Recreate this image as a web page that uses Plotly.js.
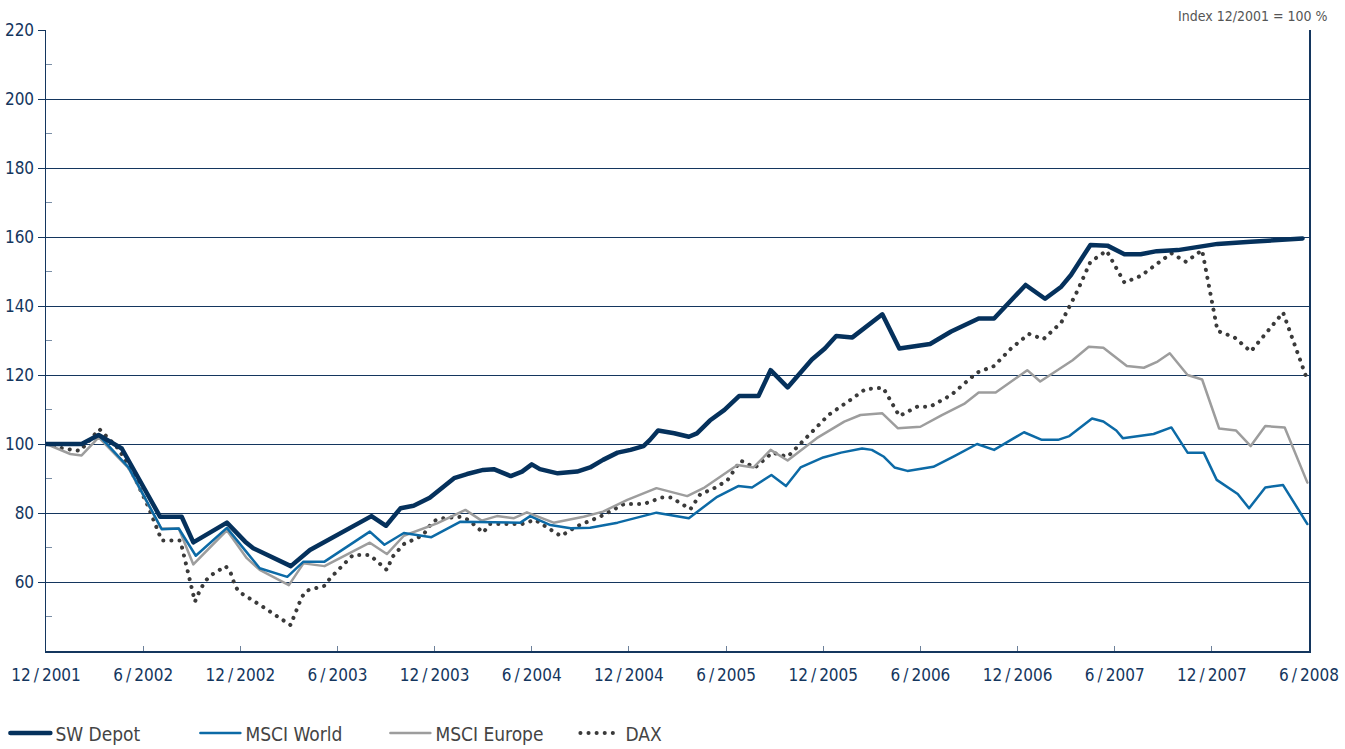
<!DOCTYPE html>
<html>
<head>
<meta charset="utf-8">
<script src="https://cdn.plot.ly/plotly-3.0.1.min.js"></script>
<style>
  html, body { margin: 0; padding: 0; background: #fff; }
  #chart { width: 1345px; height: 749px; }
  path.js-line { stroke-linecap: round; stroke-linejoin: round; }
</style>
</head>
<body>
<div id="chart"></div>
<script>
// x values: months since 12/2001
const tickMonths = [0, 6, 12, 18, 24, 30, 36, 42, 48, 54, 60, 66, 72, 78];
const tickLabels = ["12\u2009/\u20092001", "6\u2009/\u20092002", "12\u2009/\u20092002", "6\u2009/\u20092003", "12\u2009/\u20092003", "6\u2009/\u20092004", "12\u2009/\u20092004",
                    "6\u2009/\u20092005", "12\u2009/\u20092005", "6\u2009/\u20092006", "12\u2009/\u20092006", "6\u2009/\u20092007", "12\u2009/\u20092007", "6\u2009/\u20092008"];
const yTicks = [60, 80, 100, 120, 140, 160, 180, 200, 220];
const yMinor = [50, 70, 90, 110, 130, 150, 170, 190, 210];

const swX = [0, 2.2, 3.25, 4.68, 7.05, 8.38, 9.1, 11.17, 12.3, 12.8, 15.12, 16.3, 20.1, 21.0, 21.9, 22.7, 23.7, 24.4, 25.2, 26.0, 27.0, 27.65, 28.7, 29.4, 30.0, 30.5, 31.6, 32.8, 33.6, 34.4, 35.3, 36.1, 36.9, 37.3, 37.8, 38.8, 39.7, 40.2, 41.0, 41.9, 42.8, 44.0, 44.75, 45.8, 47.3, 48.1, 48.8, 49.8, 51.65, 52.7, 54.6, 55.9, 57.6, 58.55, 60.5, 61.7, 62.7, 63.3, 64.5, 65.55, 66.6, 67.6, 68.6, 69.9, 71.3, 72.35, 74.4, 77.6];
const swY = [100, 100, 102.6, 98.7, 78.9, 78.9, 71.5, 77.2, 71.7, 69.8, 64.6, 69.3, 79.1, 76.3, 81.4, 82.1, 84.4, 87.2, 90.1, 91.3, 92.5, 92.7, 90.7, 92.0, 94.1, 92.7, 91.5, 92.0, 93.2, 95.4, 97.5, 98.3, 99.4, 101.2, 103.9, 103.1, 102.1, 103.1, 106.8, 109.9, 113.9, 113.9, 121.4, 116.4, 124.5, 127.7, 131.3, 130.9, 137.6, 127.7, 129.0, 132.6, 136.4, 136.4, 146.1, 142.1, 145.6, 149.0, 157.7, 157.5, 155.0, 155.0, 155.9, 156.2, 157.2, 158.0, 158.6, 159.6];

const worldX = [0, 2.2, 3.25, 5.1, 7.15, 8.2, 9.25, 11.17, 12.45, 13.2, 14.9, 15.9, 17.2, 20.0, 20.9, 22.1, 23.8, 25.6, 29.3, 29.9, 31.15, 32.4, 33.6, 35.3, 37.7, 39.7, 41.45, 42.75, 43.6, 44.8, 45.7, 46.6, 48.0, 49.1, 50.4, 51.0, 51.75, 52.4, 53.2, 54.8, 56.1, 57.5, 58.55, 60.4, 61.5, 62.5, 63.2, 64.6, 65.3, 66.1, 66.5, 67.4, 68.4, 69.5, 70.5, 71.5, 72.3, 73.6, 74.3, 75.3, 76.4, 77.9];
const worldY = [100, 99.8, 102.6, 93.2, 75.3, 75.5, 67.6, 75.7, 68.3, 64.0, 61.5, 65.9, 65.9, 74.6, 70.8, 74.2, 73.0, 77.5, 77.2, 79.1, 76.5, 75.6, 75.7, 77.2, 80.1, 78.5, 84.7, 87.8, 87.4, 91.0, 87.8, 93.2, 96.1, 97.5, 98.7, 98.3, 96.3, 93.2, 92.2, 93.4, 96.5, 100, 98.3, 103.4, 101.2, 101.2, 102.3, 107.4, 106.5, 103.9, 101.7, 102.3, 102.9, 104.8, 97.5, 97.5, 89.6, 85.5, 81.4, 87.4, 88.1, 76.8];

const europeX = [0, 1.5, 2.2, 3.25, 5.1, 7.1, 8.2, 9.1, 11.17, 12.4, 13.2, 15.0, 15.9, 17.2, 20.0, 21.05, 22.1, 24.15, 25.9, 26.9, 27.85, 28.9, 29.7, 31.35, 33.2, 34.4, 35.9, 37.7, 39.6, 40.6, 42.7, 43.7, 44.75, 45.8, 47.6, 49.3, 50.3, 51.65, 52.6, 54.0, 55.3, 56.7, 57.6, 58.65, 60.6, 61.4, 63.4, 64.4, 65.3, 66.75, 67.8, 68.65, 69.4, 70.5, 71.4, 72.45, 73.5, 74.4, 75.3, 76.5, 77.9];
const europeY = [100, 97.1, 96.7, 101.9, 93.0, 75.6, 75.5, 65.1, 75.0, 66.9, 63.5, 59.1, 65.4, 64.6, 71.4, 68.1, 73.4, 77.0, 80.9, 77.8, 79.1, 78.5, 80.2, 77.2, 78.9, 80.4, 83.8, 87.2, 84.9, 87.2, 93.9, 93.2, 98.3, 95.2, 101.7, 106.5, 108.4, 108.9, 104.6, 105.0, 108.3, 111.6, 114.9, 114.9, 121.4, 118.1, 124.3, 128.2, 127.9, 122.6, 122.1, 123.9, 126.3, 120.0, 118.7, 104.5, 103.9, 99.4, 105.2, 104.8, 88.8];

const daxX = [0, 1.07, 2.1, 3.3, 4.5, 5.5, 6.3, 7.15, 8.3, 9.2, 9.4, 9.8, 10.2, 10.75, 11.1, 11.4, 11.7, 12.0, 12.7, 13.4, 15.1, 15.45, 15.8, 16.1, 17.2, 17.55, 18.4, 18.95, 20.0, 21.05, 21.4, 22.1, 23.3, 23.6, 24.0, 24.55, 25.6, 26.1, 27.0, 27.4, 29.4, 30.2, 31.8, 32.8, 34.2, 35.7, 36.9, 38.05, 38.6, 39.8, 40.4, 41.45, 42.1, 42.9, 43.8, 44.85, 45.8, 46.5, 47.3, 48.35, 49.5, 50.6, 51.7, 52.7, 53.8, 54.6, 55.9, 56.7, 57.5, 58.55, 59.6, 60.7, 61.6, 62.7, 63.7, 64.5, 65.5, 66.6, 67.6, 69.5, 70.4, 71.4, 72.35, 73.4, 74.4, 76.4, 77.9];
const daxY = [100, 98.7, 98.0, 104.3, 98.5, 90, 82, 72.0, 72.0, 54.3, 56.5, 60.1, 62.0, 63.5, 64.6, 62.7, 58.6, 56.9, 55.0, 52.8, 47.5, 51.4, 55.7, 57.5, 58.9, 61.1, 65.4, 67.8, 67.8, 63.5, 67.3, 71.0, 73.6, 75.8, 77.8, 78.5, 78.9, 78.0, 74.3, 76.8, 76.8, 78.0, 73.3, 76.2, 78.9, 82.6, 82.6, 84.5, 84.5, 81.1, 85.4, 87.6, 89.6, 95.2, 93.2, 97.5, 96.3, 99.7, 103.3, 108.5, 112.2, 115.9, 116.3, 108.1, 110.8, 110.8, 114.2, 117.4, 120.7, 122.6, 127.7, 131.9, 130.4, 135.2, 144.4, 152.8, 156.0, 146.8, 148.7, 155.3, 152.8, 156.2, 132.8, 130.9, 126.8, 138.1, 118.5];

const FONT = "'Liberation Sans Narrow','DejaVu Sans Condensed','Arial Narrow',sans-serif";
const NAVY = '#14365e';

const traces = [
  {name: 'DAX', x: daxX, y: daxY, mode: 'lines', line: {color: '#3a3a3a', width: 4, dash: '0.1px,8px'}},
  {name: 'MSCI Europe', x: europeX, y: europeY, mode: 'lines', line: {color: '#9d9d9d', width: 2.5}},
  {name: 'MSCI World', x: worldX, y: worldY, mode: 'lines', line: {color: '#0c6aa6', width: 2.5}},
  {name: 'SW Depot', x: swX, y: swY, mode: 'lines', line: {color: '#05315c', width: 4.5}}
];

const layout = {
  width: 1345, height: 749,
  margin: {l: 46, r: 36, t: 30, b: 98, autoexpand: false},
  paper_bgcolor: '#fff', plot_bgcolor: '#fff',
  font: {family: FONT, size: 17, color: NAVY},
  showlegend: true,
  legend: {
    orientation: 'h', traceorder: 'reversed',
    xref: 'container', yref: 'container',
    x: 0.004, xanchor: 'left', y: 0.021, yanchor: 'middle',
    font: {family: FONT, size: 19, color: '#444'},
    entrywidth: 135, itemwidth: 40
  },
  xaxis: {
    range: [0, 78], tickvals: tickMonths, ticktext: tickLabels,
    showgrid: false, zeroline: false,
    showline: true, linecolor: NAVY, linewidth: 1.5,
    ticks: 'inside', ticklen: 5, tickcolor: '#6d819b', tickwidth: 1,
    ticklabelstandoff: 8,
    tickfont: {family: FONT, size: 17, color: NAVY}
  },
  yaxis: {
    range: [40, 220], tickvals: yTicks,
    showgrid: true, gridcolor: NAVY, gridwidth: 1, zeroline: false,
    showline: true, linecolor: NAVY, linewidth: 1.5, mirror: true,
    ticks: 'outside', ticklen: 7, tickcolor: NAVY, tickwidth: 1,
    tickfont: {family: FONT, size: 17, color: NAVY},
    minor: {tickvals: yMinor, ticks: 'inside', ticklen: 6, tickcolor: '#7a8ea6', tickwidth: 1.5, showgrid: false}
  },
  annotations: [{
    text: 'Index 12/2001 = 100 %', xref: 'paper', yref: 'paper',
    x: 1.0166, xanchor: 'right', y: 1, yanchor: 'bottom', yshift: 4, showarrow: false,
    font: {family: FONT, size: 14, color: '#555'}
  }]
};

Plotly.newPlot('chart', traces, layout, {displayModeBar: false, staticPlot: true});
</script>
</body>
</html>
